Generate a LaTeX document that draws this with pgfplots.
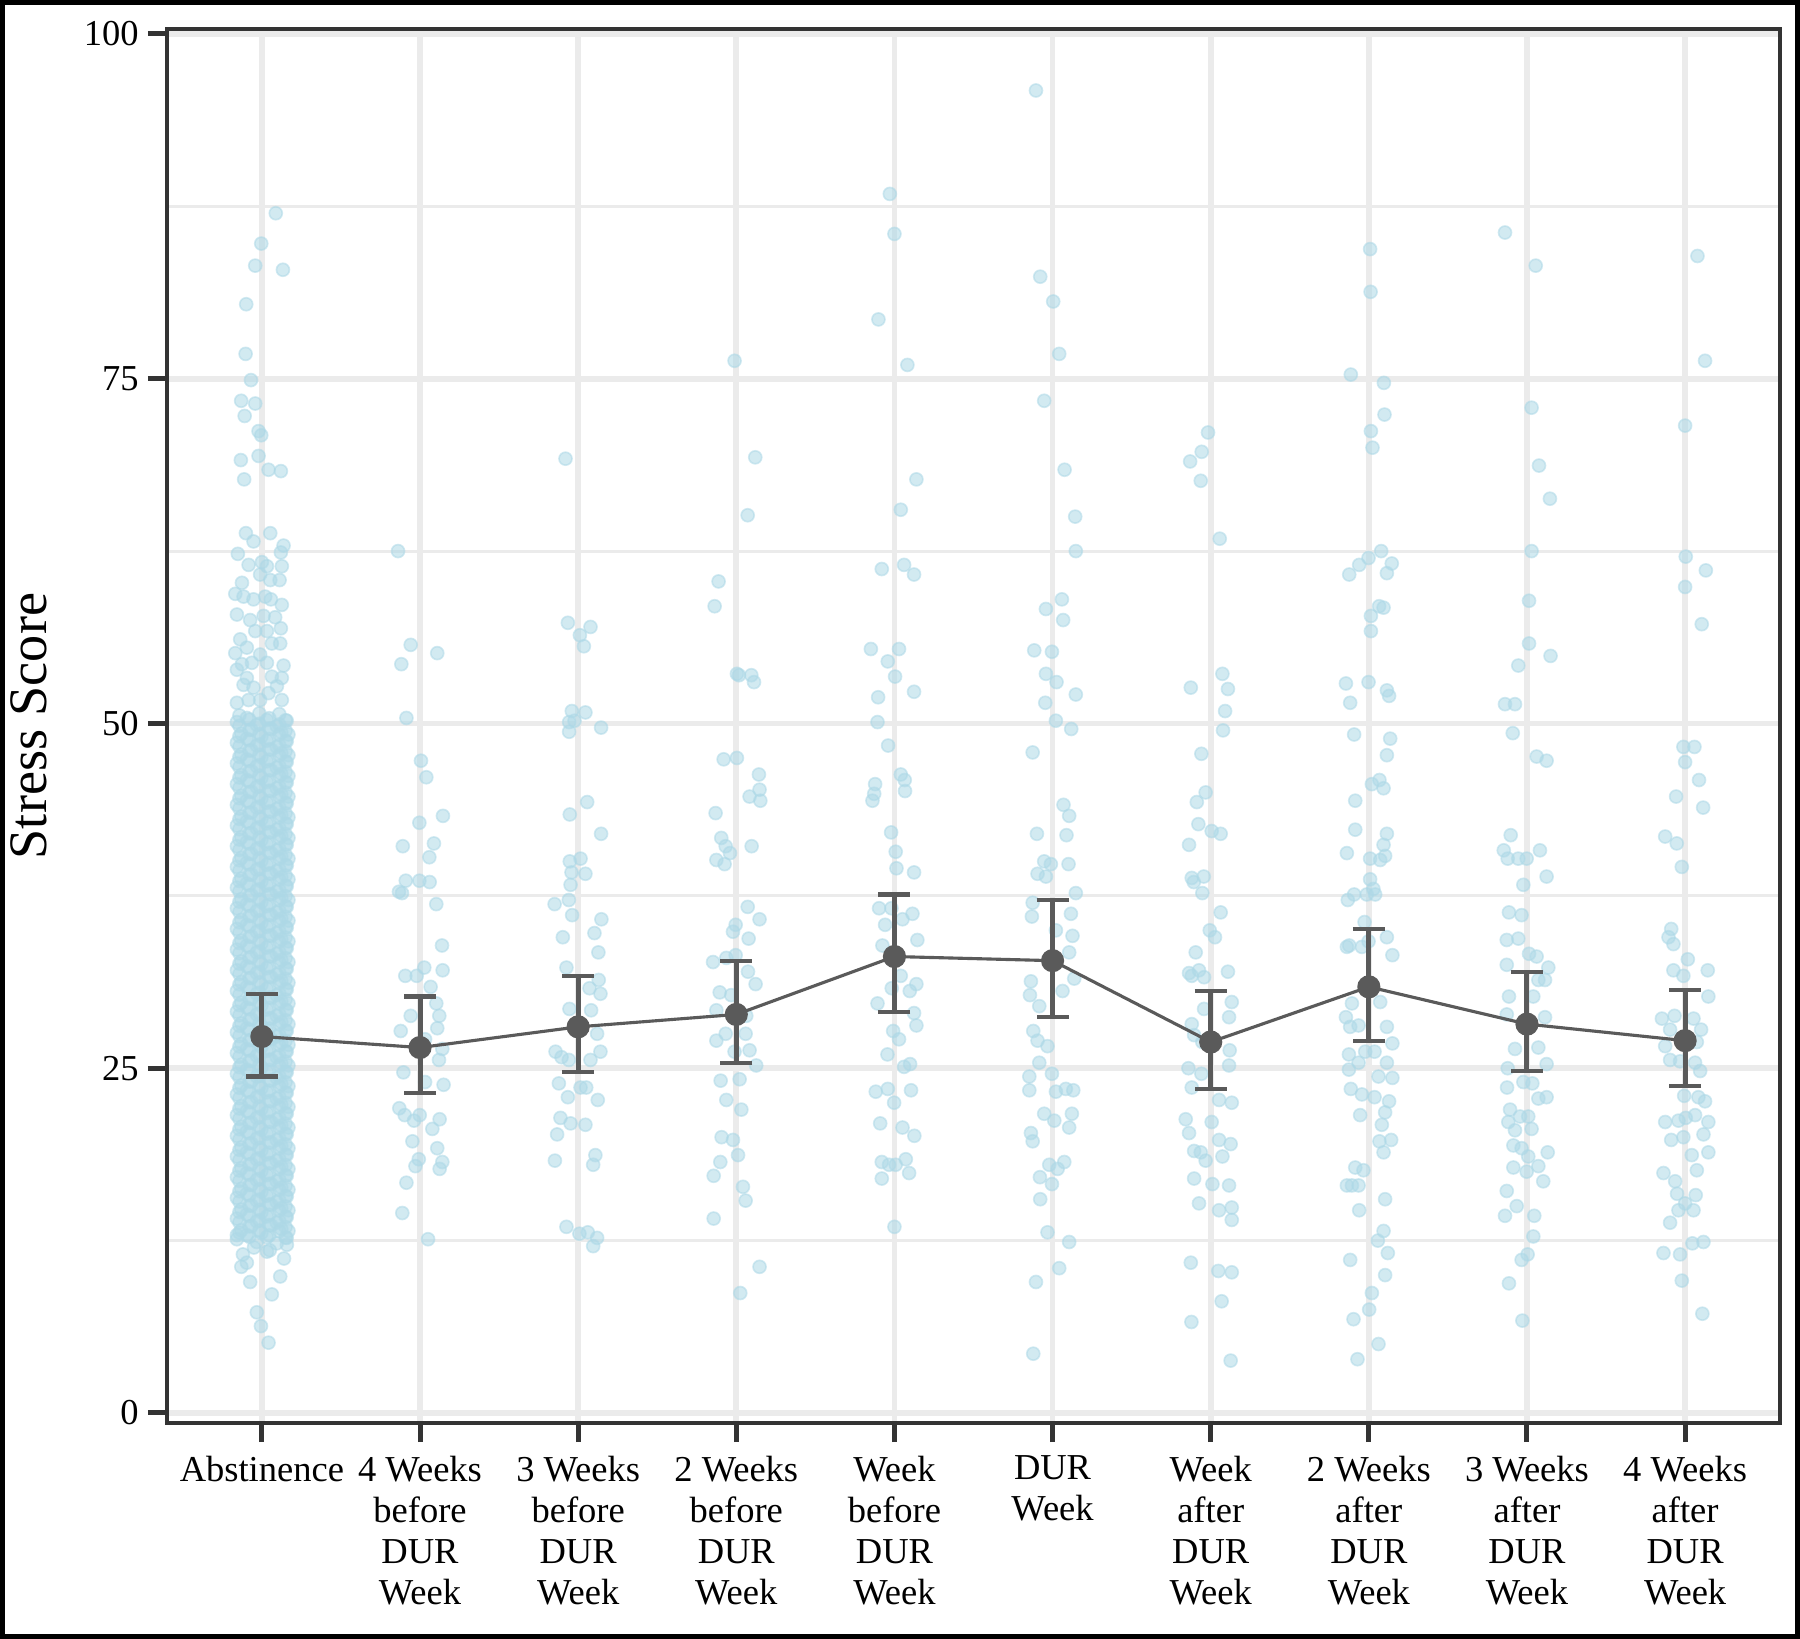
\documentclass[border=0pt]{standalone}
\usepackage{fontspec}
\setmainfont{Liberation Serif}
\usepackage{pgfplots}
\usepackage{pgfplotstable}
\pgfplotsset{compat=1.18}
\definecolor{gridc}{HTML}{EBEBEB}
\definecolor{ptblue}{HTML}{ADD8E6}
\definecolor{meanc}{HTML}{5A5A5A}
\definecolor{axisc}{HTML}{333333}

% jitter offset (dx) and stress score for each category
\pgfplotstableread{
dx y
0.088 87.0
-0.004 84.8
-0.042 83.2
0.133 82.9
-0.099 80.4
-0.103 76.8
-0.069 74.9
-0.131 73.4
-0.042 73.2
-0.109 72.3
-0.021 71.2
-0.004 70.9
-0.021 69.4
-0.133 69.1
0.042 68.4
0.12 68.3
-0.112 67.7
-0.101 63.8
-0.053 63.2
0.053 63.8
0.137 62.9
-0.152 62.3
-0.084 61.5
0 61.7
0.032 61.4
0.12 62.4
0.126 61.4
-0.126 60.2
-0.011 60.8
0.053 60.4
0.112 60.4
-0.168 59.4
-0.116 59.2
-0.053 59.0
0.021 59.2
0.057 59.0
0.126 58.6
-0.158 57.9
-0.074 57.5
0.011 57.8
0.084 57.7
0.12 56.9
-0.042 56.7
0.032 56.7
-0.137 56.1
0.063 55.8
-0.095 55.5
0.116 55.8
-0.168 55.1
-0.011 55.0
-0.126 54.3
-0.063 54.4
0.032 54.4
0.137 54.2
-0.158 53.9
-0.095 53.3
0.063 53.4
0.126 53.3
-0.116 52.8
-0.053 52.6
0.095 52.7
0.042 52.2
-0.158 51.5
-0.084 51.7
-0.011 51.7
0.126 51.7
-0.158 12.9
-0.095 10.9
-0.13 10.6
-0.074 9.5
0.063 8.6
-0.032 7.3
-0.006 6.3
0.042 5.1
0.032 11.7
0.116 9.9
0.158 12.2
-0.12 11.5
0.05 11.8
0.14 11.2
-0.05 12.0
-0.158 12.6
-0.095 12.9
-0.032 12.4
0.031 12.75
0.094 12.3
0.157 12.7
-0.13 13.25
-0.066 13.55
-0.003 13.05
0.06 13.6
0.123 13.35
0.168 13.2
-0.158 14.1
-0.095 14.4
-0.032 13.9
0.031 14.25
0.094 13.8
0.157 14.2
-0.13 14.75
-0.066 15.05
-0.003 14.55
0.06 15.1
0.123 14.85
0.168 14.7
-0.158 15.6
-0.095 15.9
-0.032 15.4
0.031 15.75
0.094 15.3
0.157 15.7
-0.13 16.25
-0.066 16.55
-0.003 16.05
0.06 16.6
0.123 16.35
0.168 16.2
-0.158 17.1
-0.095 17.4
-0.032 16.9
0.031 17.25
0.094 16.8
0.157 17.2
-0.13 17.75
-0.066 18.05
-0.003 17.55
0.06 18.1
0.123 17.85
0.168 17.7
-0.158 18.6
-0.095 18.9
-0.032 18.4
0.031 18.75
0.094 18.3
0.157 18.7
-0.13 19.25
-0.066 19.55
-0.003 19.05
0.06 19.6
0.123 19.35
0.168 19.2
-0.158 20.1
-0.095 20.4
-0.032 19.9
0.031 20.25
0.094 19.8
0.157 20.2
-0.13 20.75
-0.066 21.05
-0.003 20.55
0.06 21.1
0.123 20.85
0.168 20.7
-0.158 21.6
-0.095 21.9
-0.032 21.4
0.031 21.75
0.094 21.3
0.157 21.7
-0.13 22.25
-0.066 22.55
-0.003 22.05
0.06 22.6
0.123 22.35
0.168 22.2
-0.158 23.1
-0.095 23.4
-0.032 22.9
0.031 23.25
0.094 22.8
0.157 23.2
-0.13 23.75
-0.066 24.05
-0.003 23.55
0.06 24.1
0.123 23.85
0.168 23.7
-0.158 24.6
-0.095 24.9
-0.032 24.4
0.031 24.75
0.094 24.3
0.157 24.7
-0.13 25.25
-0.066 25.55
-0.003 25.05
0.06 25.6
0.123 25.35
0.168 25.2
-0.158 26.1
-0.095 26.4
-0.032 25.9
0.031 26.25
0.094 25.8
0.157 26.2
-0.13 26.75
-0.066 27.05
-0.003 26.55
0.06 27.1
0.123 26.85
0.168 26.7
-0.158 27.6
-0.095 27.9
-0.032 27.4
0.031 27.75
0.094 27.3
0.157 27.7
-0.13 28.25
-0.066 28.55
-0.003 28.05
0.06 28.6
0.123 28.35
0.168 28.2
-0.158 29.1
-0.095 29.4
-0.032 28.9
0.031 29.25
0.094 28.8
0.157 29.2
-0.13 29.75
-0.066 30.05
-0.003 29.55
0.06 30.1
0.123 29.85
0.168 29.7
-0.158 30.6
-0.095 30.9
-0.032 30.4
0.031 30.75
0.094 30.3
0.157 30.7
-0.13 31.25
-0.066 31.55
-0.003 31.05
0.06 31.6
0.123 31.35
0.168 31.2
-0.158 32.1
-0.095 32.4
-0.032 31.9
0.031 32.25
0.094 31.8
0.157 32.2
-0.13 32.75
-0.066 33.05
-0.003 32.55
0.06 33.1
0.123 32.85
0.168 32.7
-0.158 33.6
-0.095 33.9
-0.032 33.4
0.031 33.75
0.094 33.3
0.157 33.7
-0.13 34.25
-0.066 34.55
-0.003 34.05
0.06 34.6
0.123 34.35
0.168 34.2
-0.158 35.1
-0.095 35.4
-0.032 34.9
0.031 35.25
0.094 34.8
0.157 35.2
-0.13 35.75
-0.066 36.05
-0.003 35.55
0.06 36.1
0.123 35.85
0.168 35.7
-0.158 36.6
-0.095 36.9
-0.032 36.4
0.031 36.75
0.094 36.3
0.157 36.7
-0.13 37.25
-0.066 37.55
-0.003 37.05
0.06 37.6
0.123 37.35
0.168 37.2
-0.158 38.1
-0.095 38.4
-0.032 37.9
0.031 38.25
0.094 37.8
0.157 38.2
-0.13 38.75
-0.066 39.05
-0.003 38.55
0.06 39.1
0.123 38.85
0.168 38.7
-0.158 39.6
-0.095 39.9
-0.032 39.4
0.031 39.75
0.094 39.3
0.157 39.7
-0.13 40.25
-0.066 40.55
-0.003 40.05
0.06 40.6
0.123 40.35
0.168 40.2
-0.158 41.1
-0.095 41.4
-0.032 40.9
0.031 41.25
0.094 40.8
0.157 41.2
-0.13 41.75
-0.066 42.05
-0.003 41.55
0.06 42.1
0.123 41.85
0.168 41.7
-0.158 42.6
-0.095 42.9
-0.032 42.4
0.031 42.75
0.094 42.3
0.157 42.7
-0.13 43.25
-0.066 43.55
-0.003 43.05
0.06 43.6
0.123 43.35
0.168 43.2
-0.158 44.1
-0.095 44.4
-0.032 43.9
0.031 44.25
0.094 43.8
0.157 44.2
-0.13 44.75
-0.066 45.05
-0.003 44.55
0.06 45.1
0.123 44.85
0.168 44.7
-0.158 45.6
-0.095 45.9
-0.032 45.4
0.031 45.75
0.094 45.3
0.157 45.7
-0.13 46.25
-0.066 46.55
-0.003 46.05
0.06 46.6
0.123 46.35
0.168 46.2
-0.158 47.1
-0.095 47.4
-0.032 46.9
0.031 47.25
0.094 46.8
0.157 47.2
-0.13 47.75
-0.066 48.05
-0.003 47.55
0.06 48.1
0.123 47.85
0.168 47.7
-0.158 48.6
-0.095 48.9
-0.032 48.4
0.031 48.75
0.094 48.3
0.157 48.7
-0.13 49.25
-0.066 49.55
-0.003 49.05
0.06 49.6
0.123 49.35
0.168 49.2
-0.158 50.1
-0.095 50.4
-0.032 49.9
0.031 50.25
0.094 49.8
0.157 50.2
}\catA

\pgfplotstableread{
dx y
-0.139 62.5
-0.059 55.7
-0.118 54.3
0.109 55.1
-0.086 50.4
0.006 47.3
0.04 46.1
0.145 43.3
-0.004 42.8
-0.109 41.1
0.088 41.3
0.059 40.3
-0.09 38.6
-0.004 38.6
0.061 38.5
-0.133 37.8
-0.114 37.7
0.103 36.9
0.139 33.9
-0.093 31.7
0.027 32.3
-0.021 31.7
0.143 32.1
0.067 30.9
0.103 29.7
0.122 28.8
-0.059 28.8
0.109 27.9
-0.122 27.7
0.141 26.4
0.032 27.1
-0.105 24.7
0.12 25.6
0.149 23.8
0.032 24.0
-0.131 22.1
-0.097 21.6
-0.002 21.6
0.124 21.3
-0.038 21.2
0.078 20.6
-0.048 19.7
0.109 19.2
-0.008 18.4
-0.029 17.9
0.141 18.2
0.124 17.7
-0.086 16.7
-0.112 14.5
0.051 12.6
}\catB

\pgfplotstableread{
dx y
-0.08 69.2
-0.065 57.3
0.011 56.4
0.078 57.0
0.036 55.6
-0.04 50.9
-0.057 50.1
-0.023 50.2
-0.057 49.4
0.046 50.8
0.145 49.7
0.057 44.3
-0.053 43.4
0.145 42.0
-0.053 40.0
0.015 40.2
-0.042 39.2
0.046 39.1
-0.048 38.3
-0.059 37.2
-0.149 36.9
-0.038 36.1
-0.097 34.5
0.147 35.8
0.103 34.8
0.128 33.4
-0.074 32.3
0.072 30.8
0.13 31.4
0.141 30.4
-0.055 29.3
0.082 29.2
0.12 27.5
-0.143 26.2
-0.105 25.8
-0.059 25.6
0.141 26.2
0.078 25.6
-0.122 23.9
0.015 23.6
0.051 23.6
-0.065 22.9
0.124 22.7
-0.112 21.4
-0.048 21.0
0.046 20.9
-0.133 20.2
0.109 18.7
0.095 18.0
-0.147 18.3
-0.074 13.5
0.008 13.0
0.061 13.1
0.12 12.7
0.095 12.1
}\catC

\pgfplotstableread{
dx y
-0.011 76.3
0.12 69.3
0.072 65.1
-0.112 60.3
-0.137 58.5
0.004 53.6
0.017 53.5
0.095 53.5
0.112 53.0
-0.08 47.4
0.004 47.5
0.143 46.3
0.084 44.7
0.147 45.2
0.152 44.4
-0.131 43.5
-0.095 41.7
-0.067 41.1
-0.04 40.6
-0.126 40.1
-0.074 39.8
0.097 41.1
0.072 36.7
0.147 35.8
-0.004 35.4
-0.021 34.9
0.078 34.4
-0.147 32.7
-0.063 33.0
-0.004 33.2
0.074 32.0
0.122 31.1
-0.105 30.5
-0.032 30.3
-0.126 29.2
0.063 28.8
-0.067 27.5
-0.126 27.0
0.059 27.5
0.084 26.3
-0.011 26.2
0.126 25.2
-0.099 24.1
0.021 24.2
-0.063 22.7
0.032 22.0
-0.093 20.0
-0.021 19.8
-0.101 18.2
0.011 18.7
-0.143 17.2
0.042 16.4
0.059 15.4
-0.143 14.1
0.147 10.6
0.025 8.7
}\catD

\pgfplotstableread{
dx y
-0.029 88.4
0 85.5
-0.101 79.3
0.082 76.0
0.139 67.7
0.04 65.5
-0.08 61.2
0.061 61.5
0.124 60.8
-0.149 55.4
-0.042 54.5
0.029 55.4
0.004 53.4
0.124 52.3
-0.103 51.9
-0.107 50.1
-0.04 48.4
0.04 46.3
0.065 45.9
0.067 45.1
-0.122 45.6
-0.128 44.9
-0.139 44.4
-0.021 42.1
0.008 40.7
0.013 39.5
0.124 39.2
-0.097 36.6
-0.019 36.6
-0.059 35.4
0.114 36.2
0.051 35.8
0.145 34.3
-0.076 33.9
0.04 31.7
0.139 31.1
0.097 30.6
-0.107 29.7
-0.017 30.8
0.124 29.0
0.139 28.1
-0.008 27.7
0.029 27.1
-0.044 26.0
0.099 25.3
0.061 25.1
-0.118 23.3
-0.042 23.5
-0.002 22.5
0.105 23.4
-0.09 21.0
0.051 20.7
0.126 20.1
-0.08 18.2
-0.034 18.0
0.008 18.0
0.072 18.4
-0.08 17.0
0.093 17.4
0 13.5
}\catE

\pgfplotstableread{
dx y
-0.105 95.9
-0.078 82.4
0.004 80.6
0.042 76.8
-0.053 73.4
0.076 68.4
0.143 65.0
0.147 62.5
-0.042 58.3
0.059 59.0
0.067 57.5
-0.116 55.3
-0.004 55.2
-0.042 53.6
0.025 53.0
-0.046 51.5
0.147 52.1
0.021 50.2
0.118 49.6
-0.126 47.9
-0.099 42.0
0.069 44.1
0.105 43.3
0.088 41.9
0.101 39.8
-0.053 40.0
-0.011 39.8
-0.095 39.1
-0.042 38.9
0.147 37.7
-0.126 37.0
-0.131 36.0
0.116 36.2
0.126 34.6
0.021 35.0
0.105 33.4
0.137 31.5
-0.137 31.3
-0.143 30.3
0.063 30.6
-0.084 29.5
-0.122 27.7
-0.095 27.0
-0.032 26.6
-0.084 25.4
-0.004 24.6
-0.147 24.4
-0.147 23.4
0.021 23.3
0.084 23.5
0.131 23.4
-0.053 21.7
0.011 21.2
0.122 21.7
0.105 20.7
-0.137 20.3
-0.126 19.7
-0.021 18.0
0.032 17.7
0.074 18.2
-0.004 16.6
-0.08 17.1
-0.078 15.5
-0.032 13.1
0.105 12.4
0.042 10.5
-0.105 9.5
-0.122 4.3
}\catF

\pgfplotstableread{
dx y
-0.017 71.1
-0.057 69.7
-0.13 69.0
-0.063 67.6
0.057 63.4
-0.126 52.6
0.074 53.6
0.109 52.5
0.091 50.9
0.078 49.5
-0.059 47.8
-0.088 44.3
-0.032 45.0
-0.078 42.7
0.006 42.2
0.063 42.0
-0.137 41.2
-0.12 38.8
-0.107 38.5
-0.044 38.9
-0.053 37.7
0.063 36.3
-0.006 35.0
0.027 34.5
-0.095 33.4
0.109 32.0
-0.137 31.9
-0.074 32.1
-0.042 31.6
-0.12 31.7
0.133 29.8
0.116 28.7
-0.042 29.3
-0.12 28.2
-0.053 26.9
-0.105 27.4
0.12 26.3
0.116 25.2
-0.141 25.0
-0.059 24.6
-0.12 23.6
0.053 22.7
0.133 22.5
0.006 21.1
-0.158 21.3
-0.137 20.3
-0.105 19.0
-0.063 18.9
0.053 19.8
0.126 19.5
-0.032 18.3
0.074 18.6
-0.105 17.0
0.011 16.6
0.116 16.5
-0.074 15.2
0.133 14.9
0.053 14.7
0.133 14.0
-0.126 10.9
0.048 10.3
0.133 10.2
0.069 8.1
-0.122 6.6
0.126 3.8
}\catG

\pgfplotstableread{
dx y
0.008 84.4
0.011 81.3
-0.114 75.3
0.095 74.7
0.099 72.4
0.013 71.2
0.023 70.0
-0.002 62.0
0.078 62.5
-0.061 61.5
-0.124 60.8
0.145 61.6
0.114 60.9
0.065 58.5
0.093 58.4
0.013 57.8
0.013 56.7
-0.145 52.9
-0.002 53.0
-0.118 51.5
0.114 52.4
0.128 52.0
-0.093 49.2
0.135 48.9
0.114 47.7
0.019 45.6
0.067 45.9
0.093 45.3
-0.086 44.4
-0.086 42.3
0.114 42.0
0.093 41.2
-0.139 40.6
0.008 40.2
0.072 40.1
0.103 40.4
0.008 38.7
0.029 38.0
-0.133 37.2
-0.093 37.6
-0.013 37.6
0.04 37.6
-0.027 35.6
-0.139 33.8
-0.124 33.9
-0.002 34.2
0.114 34.5
0.149 33.2
-0.044 33.8
0.072 29.8
-0.107 29.7
-0.145 28.7
-0.118 28.0
-0.065 28.1
0.114 28.0
0.149 26.8
-0.126 26.0
-0.023 26.2
0.036 26.2
-0.065 25.4
0.114 25.4
-0.126 24.9
0.061 24.4
0.149 24.3
-0.114 23.5
-0.044 23.1
0.036 22.9
0.128 22.6
0.103 21.8
-0.055 21.6
0.082 20.9
0.141 19.8
0.067 19.7
0.093 18.9
-0.086 17.8
-0.034 17.6
-0.139 16.5
-0.107 16.5
-0.065 16.5
0.103 15.5
-0.061 14.7
0.093 13.2
0.12 11.6
0.057 12.5
-0.118 11.1
0.103 10.0
0.019 8.7
0.002 7.5
-0.097 6.8
0.061 5.0
-0.072 3.9
}\catH

\pgfplotstableread{
dx y
-0.139 85.6
0.055 83.2
0.029 72.9
0.076 68.7
0.145 66.3
0.029 62.5
0.013 58.9
0.013 55.8
-0.055 54.2
0.149 54.9
-0.139 51.4
-0.076 51.4
-0.09 49.3
0.061 47.6
0.124 47.3
-0.103 41.9
-0.147 40.8
-0.122 40.2
-0.055 40.2
-0.002 40.2
0.082 40.8
-0.023 38.3
0.124 38.9
-0.114 36.3
-0.034 36.1
-0.128 34.3
-0.055 34.4
0.013 33.3
-0.128 32.5
0.061 33.1
0.135 32.3
0.072 31.4
0.114 31.4
-0.114 30.2
0.04 30.2
-0.128 28.9
0.114 28.7
-0.076 26.4
0.072 26.5
-0.122 25.0
-0.023 24.0
0.034 23.9
0.124 25.3
-0.126 23.6
-0.107 22.0
-0.044 21.5
0.008 21.5
0.072 22.8
0.124 22.9
-0.118 21.1
-0.076 20.5
0.029 20.6
-0.086 19.4
-0.034 19.2
0.008 18.6
0.131 18.9
-0.086 17.8
-0.002 17.5
0.072 17.9
0.103 16.8
-0.128 16.1
-0.065 15.0
-0.139 14.3
0.046 14.3
0.04 12.8
-0.034 11.1
0.004 11.5
-0.114 9.4
-0.029 6.7
}\catI

\pgfplotstableread{
dx y
0.078 83.9
0.126 76.3
0 71.6
0.004 62.1
0.131 61.1
0 59.9
0.105 57.2
-0.011 48.3
0.059 48.3
0 47.2
0.088 45.9
-0.057 44.7
0.114 43.9
-0.126 41.8
-0.053 41.3
-0.021 39.6
-0.088 35.1
-0.105 34.5
-0.074 34.0
0.017 32.9
0.143 32.1
-0.074 32.1
-0.011 31.7
0.147 30.2
-0.147 28.6
-0.067 28.8
-0.095 27.8
0.053 28.6
0.101 27.8
-0.126 26.6
0.074 26.9
-0.095 25.6
-0.032 25.5
0.063 25.4
0.095 24.8
-0.006 23.0
0.084 22.9
0.126 22.6
-0.126 21.1
-0.042 21.2
0.004 21.4
0.063 21.6
0.147 21.1
-0.088 19.8
-0.011 20.0
0.116 20.2
0.042 18.7
0.147 18.9
0.074 17.6
-0.137 17.4
-0.063 16.8
-0.051 15.9
0.067 15.8
0 15.2
-0.042 14.7
0.053 14.7
-0.095 13.8
0.046 12.3
0.116 12.4
-0.137 11.6
-0.032 11.5
-0.021 9.6
0.109 7.2
}\catJ

\pgfplotstableread{
x mean ep em
0 27.3 3.1 2.9
1 26.5 3.7 3.3
2 28.0 3.7 3.3
3 28.9 3.9 3.5
4 33.1 4.5 4.0
5 32.8 4.4 4.1
6 26.9 3.7 3.4
7 30.9 4.2 3.9
8 28.2 3.8 3.4
9 27.0 3.7 3.3
}\means

\begin{document}
\begin{tikzpicture}
\useasboundingbox (0,0) rectangle (432pt,393.36pt);
\begin{axis}[
  at={(40.08pt,51.84pt)}, anchor=south west,
  scale only axis, width=387.12pt, height=334.56pt,
  xmin=-0.6, xmax=9.6, ymin=-0.725, ymax=100.36,
  clip marker paths=true,
  xtick={0,1,2,3,4,5,6,7,8,9},
  xticklabels={Abstinence,{4 Weeks\\before\\DUR\\Week},{3 Weeks\\before\\DUR\\Week},{2 Weeks\\before\\DUR\\Week},{Week\\before\\DUR\\Week},{DUR\\Week},{Week\\after\\DUR\\Week},{2 Weeks\\after\\DUR\\Week},{3 Weeks\\after\\DUR\\Week},{4 Weeks\\after\\DUR\\Week}},
  ytick={0,25,50,75,100},
  yticklabels={0,25,50,75,100},
  minor ytick={12.5,37.5,62.5,87.5},
  grid=both,
  major grid style={draw=gridc, line width=1.35pt},
  minor grid style={draw=gridc, line width=0.7pt},
  tick align=outside, tick pos=left,
  major tick length=4.6pt, minor tick length=0pt,
  every tick/.style={draw=axisc, line width=1.2pt},
  axis line style={draw=axisc, line width=1pt},
  xticklabel style={align=center, font=\fontsize{8.76}{9.84}\selectfont, inner sep=3.1pt},
  yticklabel style={font=\fontsize{8.76}{9.84}\selectfont, inner sep=2pt},
  ylabel={Stress Score},
  ylabel style={at={(axis description cs:-0.0856,0.5)}, anchor=center, font=\fontsize{13}{15}\selectfont},
]
\pgfplotsset{ptstyle/.style={only marks, mark=*, mark size=1.56pt, mark options={draw=ptblue, fill=ptblue, opacity=0.55, line width=0.4pt}}}
\addplot[ptstyle] table[x expr=\thisrow{dx}+0, y=y] {\catA};
% further Abstinence observations (dense core)
\addplot[ptstyle] coordinates {
(-0.142,13.08) (-0.079,12.78) (-0.016,13.23) (0.047,12.88) (0.11,13.18) (0.15,12.73)
(-0.142,13.83) (-0.079,13.53) (-0.016,13.98) (0.047,13.63) (0.11,13.93) (0.15,13.48)
(-0.142,14.58) (-0.079,14.28) (-0.016,14.73) (0.047,14.38) (0.11,14.68) (0.15,14.23)
(-0.142,15.33) (-0.079,15.03) (-0.016,15.48) (0.047,15.13) (0.11,15.43) (0.15,14.98)
(-0.142,16.08) (-0.079,15.78) (-0.016,16.23) (0.047,15.88) (0.11,16.18) (0.15,15.73)
(-0.142,16.83) (-0.079,16.53) (-0.016,16.98) (0.047,16.63) (0.11,16.93) (0.15,16.48)
(-0.142,17.58) (-0.079,17.28) (-0.016,17.73) (0.047,17.38) (0.11,17.68) (0.15,17.23)
(-0.142,18.33) (-0.079,18.03) (-0.016,18.48) (0.047,18.13) (0.11,18.43) (0.15,17.98)
(-0.142,19.08) (-0.079,18.78) (-0.016,19.23) (0.047,18.88) (0.11,19.18) (0.15,18.73)
(-0.142,19.83) (-0.079,19.53) (-0.016,19.98) (0.047,19.63) (0.11,19.93) (0.15,19.48)
(-0.142,20.58) (-0.079,20.28) (-0.016,20.73) (0.047,20.38) (0.11,20.68) (0.15,20.23)
(-0.142,21.33) (-0.079,21.03) (-0.016,21.48) (0.047,21.13) (0.11,21.43) (0.15,20.98)
(-0.142,22.08) (-0.079,21.78) (-0.016,22.23) (0.047,21.88) (0.11,22.18) (0.15,21.73)
(-0.142,22.83) (-0.079,22.53) (-0.016,22.98) (0.047,22.63) (0.11,22.93) (0.15,22.48)
(-0.142,23.58) (-0.079,23.28) (-0.016,23.73) (0.047,23.38) (0.11,23.68) (0.15,23.23)
(-0.142,24.33) (-0.079,24.03) (-0.016,24.48) (0.047,24.13) (0.11,24.43) (0.15,23.98)
(-0.142,25.08) (-0.079,24.78) (-0.016,25.23) (0.047,24.88) (0.11,25.18) (0.15,24.73)
(-0.142,25.83) (-0.079,25.53) (-0.016,25.98) (0.047,25.63) (0.11,25.93) (0.15,25.48)
(-0.142,26.58) (-0.079,26.28) (-0.016,26.73) (0.047,26.38) (0.11,26.68) (0.15,26.23)
(-0.142,27.33) (-0.079,27.03) (-0.016,27.48) (0.047,27.13) (0.11,27.43) (0.15,26.98)
(-0.142,28.08) (-0.079,27.78) (-0.016,28.23) (0.047,27.88) (0.11,28.18) (0.15,27.73)
(-0.142,28.83) (-0.079,28.53) (-0.016,28.98) (0.047,28.63) (0.11,28.93) (0.15,28.48)
(-0.142,29.58) (-0.079,29.28) (-0.016,29.73) (0.047,29.38) (0.11,29.68) (0.15,29.23)
(-0.142,30.33) (-0.079,30.03) (-0.016,30.48) (0.047,30.13) (0.11,30.43) (0.15,29.98)
(-0.142,31.08) (-0.079,30.78) (-0.016,31.23) (0.047,30.88) (0.11,31.18) (0.15,30.73)
(-0.142,31.83) (-0.079,31.53) (-0.016,31.98) (0.047,31.63) (0.11,31.93) (0.15,31.48)
(-0.142,32.58) (-0.079,32.28) (-0.016,32.73) (0.047,32.38) (0.11,32.68) (0.15,32.23)
(-0.142,33.33) (-0.079,33.03) (-0.016,33.48) (0.047,33.13) (0.11,33.43) (0.15,32.98)
(-0.142,34.08) (-0.079,33.78) (-0.016,34.23) (0.047,33.88) (0.11,34.18) (0.15,33.73)
(-0.142,34.83) (-0.079,34.53) (-0.016,34.98) (0.047,34.63) (0.11,34.93) (0.15,34.48)
(-0.142,35.58) (-0.079,35.28) (-0.016,35.73) (0.047,35.38) (0.11,35.68) (0.15,35.23)
(-0.142,36.33) (-0.079,36.03) (-0.016,36.48) (0.047,36.13) (0.11,36.43) (0.15,35.98)
(-0.142,37.08) (-0.079,36.78) (-0.016,37.23) (0.047,36.88) (0.11,37.18) (0.15,36.73)
(-0.142,37.83) (-0.079,37.53) (-0.016,37.98) (0.047,37.63) (0.11,37.93) (0.15,37.48)
(-0.142,38.58) (-0.079,38.28) (-0.016,38.73) (0.047,38.38) (0.11,38.68) (0.15,38.23)
(-0.142,39.33) (-0.079,39.03) (-0.016,39.48) (0.047,39.13) (0.11,39.43) (0.15,38.98)
(-0.142,40.08) (-0.079,39.78) (-0.016,40.23) (0.047,39.88) (0.11,40.18) (0.15,39.73)
(-0.142,40.83) (-0.079,40.53) (-0.016,40.98) (0.047,40.63) (0.11,40.93) (0.15,40.48)
(-0.142,41.58) (-0.079,41.28) (-0.016,41.73) (0.047,41.38) (0.11,41.68) (0.15,41.23)
(-0.142,42.33) (-0.079,42.03) (-0.016,42.48) (0.047,42.13) (0.11,42.43) (0.15,41.98)
(-0.142,43.08) (-0.079,42.78) (-0.016,43.23) (0.047,42.88) (0.11,43.18) (0.15,42.73)
(-0.142,43.83) (-0.079,43.53) (-0.016,43.98) (0.047,43.63) (0.11,43.93) (0.15,43.48)
(-0.142,44.58) (-0.079,44.28) (-0.016,44.73) (0.047,44.38) (0.11,44.68) (0.15,44.23)
(-0.142,45.33) (-0.079,45.03) (-0.016,45.48) (0.047,45.13) (0.11,45.43) (0.15,44.98)
(-0.142,46.08) (-0.079,45.78) (-0.016,46.23) (0.047,45.88) (0.11,46.18) (0.15,45.73)
(-0.142,46.83) (-0.079,46.53) (-0.016,46.98) (0.047,46.63) (0.11,46.93) (0.15,46.48)
(-0.142,47.58) (-0.079,47.28) (-0.016,47.73) (0.047,47.38) (0.11,47.68) (0.15,47.23)
(-0.142,48.33) (-0.079,48.03) (-0.016,48.48) (0.047,48.13) (0.11,48.43) (0.15,47.98)
(-0.142,49.08) (-0.079,48.78) (-0.016,49.23) (0.047,48.88) (0.11,49.18) (0.15,48.73)
(-0.142,49.83) (-0.079,49.53) (-0.016,49.98) (0.047,49.63) (0.11,49.93) (0.15,49.48)
(-0.142,50.58) (-0.079,50.28) (-0.016,50.73) (0.047,50.38) (0.11,50.68) (0.15,50.23)
};
\addplot[ptstyle] table[x expr=\thisrow{dx}+1, y=y] {\catB};
\addplot[ptstyle] table[x expr=\thisrow{dx}+2, y=y] {\catC};
\addplot[ptstyle] table[x expr=\thisrow{dx}+3, y=y] {\catD};
\addplot[ptstyle] table[x expr=\thisrow{dx}+4, y=y] {\catE};
\addplot[ptstyle] table[x expr=\thisrow{dx}+5, y=y] {\catF};
\addplot[ptstyle] table[x expr=\thisrow{dx}+6, y=y] {\catG};
\addplot[ptstyle] table[x expr=\thisrow{dx}+7, y=y] {\catH};
\addplot[ptstyle] table[x expr=\thisrow{dx}+8, y=y] {\catI};
\addplot[ptstyle] table[x expr=\thisrow{dx}+9, y=y] {\catJ};
\addplot[only marks, mark=none,
  error bars/.cd, y dir=both, y explicit,
  error bar style={draw=meanc, line width=1.2pt},
  error mark options={rotate=90, mark size=3.84pt, draw=meanc, line width=1pt}]
  table[x=x, y=mean, y error plus=ep, y error minus=em] {\means};
\addplot[draw=meanc, line width=0.75pt, mark=*, mark size=2.4pt, mark options={fill=meanc, draw=meanc}]
  table[x=x, y=mean] {\means};
\end{axis}
\draw[line width=1.1pt, black] (0.55pt,0.55pt) rectangle (431.45pt,392.81pt);
\end{tikzpicture}
\end{document}
